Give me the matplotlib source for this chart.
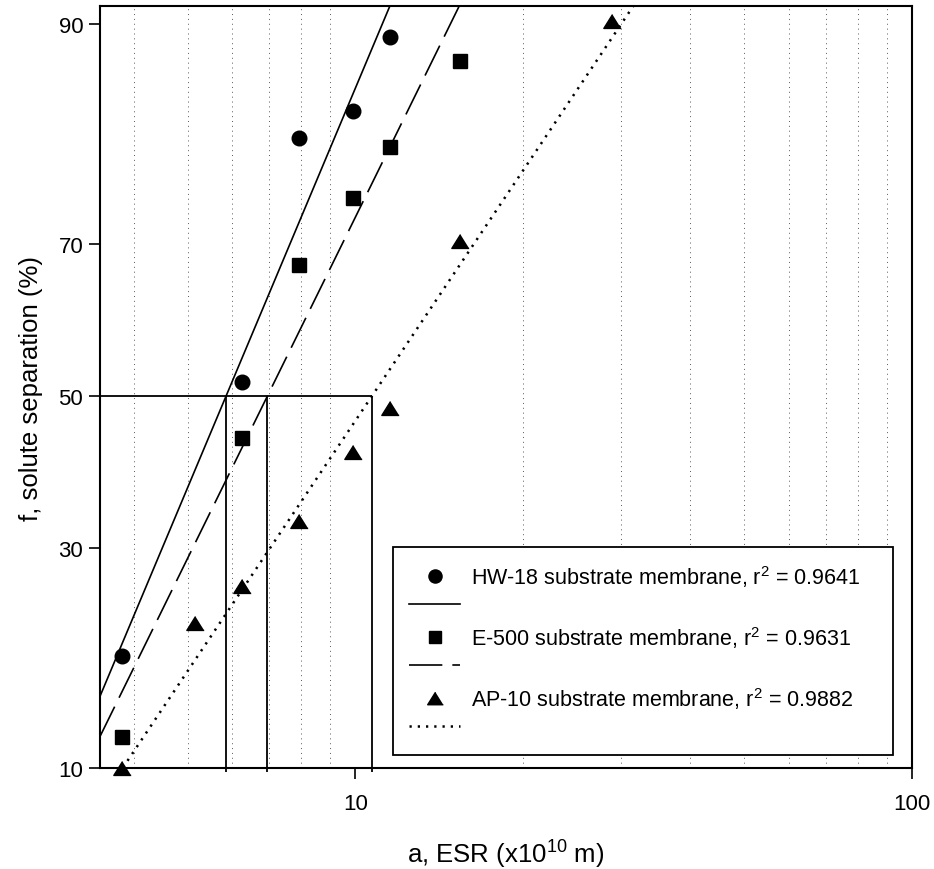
import math

import matplotlib
matplotlib.use("Agg")
import matplotlib.pyplot as plt
import numpy as np
from matplotlib.lines import Line2D
from matplotlib.ticker import FixedLocator, LogLocator, NullFormatter

plt.rcParams["font.family"] = ["Liberation Sans", "DejaVu Sans"]
plt.rcParams["mathtext.fontset"] = "custom"
plt.rcParams["mathtext.rm"] = "Liberation Sans"
plt.rcParams["mathtext.it"] = "Liberation Sans:italic"

# --- Data ---
ESR_HW18 = [3.82, 6.26, 7.91, 9.92, 11.53]
SEP_HW18 = [18.5, 51.9, 81.3, 83.7, 89.2]

ESR_E500 = [3.82, 6.26, 7.91, 9.92, 11.53, 15.4]
SEP_E500 = [12.0, 44.3, 67.4, 75.2, 80.5, 87.6]

ESR_AP10 = [3.82, 5.15, 6.26, 7.91, 9.92, 11.53, 15.4, 28.9]
SEP_AP10 = [10.0, 21.7, 25.7, 33.3, 42.3, 48.3, 70.3, 90.2]

NAMES = ["HW-18", "E-500", "AP-10"]
R2 = ["0.9641", "0.9631", "0.9882"]
Y_TICKS = [10, 30, 50, 70, 90]
X_TICKS = [10, 100]
X_LIM = (3.48, 100)
Y_LIM = (10, 91.05)

# --- probability (normal) axis ---
_erf = np.vectorize(math.erf, otypes=[float])


def norm_cdf(z):
    z = np.asarray(z, dtype=float)
    return 0.5 * (1.0 + _erf(z / math.sqrt(2.0)))


def norm_ppf(p):
    p = np.clip(np.asarray(p, dtype=float), 1e-12, 1 - 1e-12)
    lo = np.full(p.shape, -8.0)
    hi = np.full(p.shape, 8.0)
    for _ in range(60):
        mid = 0.5 * (lo + hi)
        below = norm_cdf(mid) < p
        lo = np.where(below, mid, lo)
        hi = np.where(below, hi, mid)
    return 0.5 * (lo + hi)


def prob_fwd(f):
    return norm_ppf(np.asarray(f, dtype=float) / 100.0)


def prob_inv(z):
    return 100.0 * norm_cdf(z)


fig = plt.figure(figsize=(9.34, 8.70), dpi=100)
ax = fig.add_axes([0.107, 0.116, 0.8695, 0.876])
ax.set_xscale("log")
ax.set_yscale("function", functions=(prob_fwd, prob_inv))

series = [
    (ESR_HW18, SEP_HW18, "o", 10.5, dict(linestyle="-")),
    (ESR_E500, SEP_E500, "s", 9.5, dict(dashes=(20, 6))),
    (ESR_AP10, SEP_AP10, [(0, 0.8), (-1, -0.8), (1, -0.8)], 12.5,
     dict(dashes=(0.9, 2.4), linewidth=1.8)),
]

x_line = np.logspace(np.log10(X_LIM[0]), np.log10(X_LIM[1]), 300)
handles, labels = [], []
a50 = []
for (xs, fs, mk, ms, lstyle), name, r2 in zip(series, NAMES, R2):
    # least-squares fit in (log a, probit f) space
    slope, icpt = np.polyfit(np.log10(xs), prob_fwd(fs), 1)
    a50.append(10 ** (-icpt / slope))
    ax.plot(xs, fs, linestyle="none", marker=mk, markersize=ms,
            color="black", zorder=4, clip_on=False)
    kw = dict(color="black", linewidth=1.2)
    kw.update(lstyle)
    ax.plot(x_line, prob_inv(slope * np.log10(x_line) + icpt), **kw)

    handles += [Line2D([], [], linestyle="none", marker=mk,
                       markersize=ms * 0.9, color="black"),
                Line2D([], [], **kw)]
    labels += [f"{name} substrate membrane, r$^2$ = {r2}", " "]

# 50 % separation drop lines
ax.hlines(50, X_LIM[0], max(a50), color="black", linewidth=1.3, zorder=3)
ax.vlines(a50, 9.75, 50, color="black", linewidth=1.3, zorder=3, clip_on=False)

ax.set_xlim(*X_LIM)
ax.set_ylim(*Y_LIM)

ax.xaxis.set_major_locator(FixedLocator(X_TICKS))
ax.set_xticklabels([str(t) for t in X_TICKS])
ax.xaxis.set_minor_locator(LogLocator(base=10, subs=np.arange(2, 10)))
ax.xaxis.set_minor_formatter(NullFormatter())
ax.yaxis.set_major_locator(FixedLocator(Y_TICKS))
ax.set_yticklabels([str(t) for t in Y_TICKS])
ax.yaxis.set_minor_locator(FixedLocator([]))

ax.grid(which="minor", axis="x", color="0.35", linewidth=0.7,
        linestyle=(0, (1, 4)))
ax.tick_params(which="major", direction="out", length=8, width=1.2,
               labelsize=16)
ax.tick_params(axis="x", which="major", pad=10)
ax.tick_params(axis="y", which="major", pad=4)
ax.tick_params(which="minor", length=0)
for sp in ax.spines.values():
    sp.set_linewidth(1.5)

ax.set_xlabel("a, ESR (x10$^{10}$ m)", fontsize=18.5, labelpad=17)
ax.set_ylabel("f, solute separation (%)", fontsize=18.5, labelpad=11)

leg = ax.legend(handles, labels, loc="lower left", mode="expand",
                bbox_to_anchor=(0.361, 0.017, 0.6158, 0.0),
                fontsize=15.5, handlelength=2.35, handletextpad=0.5,
                labelspacing=0.33, borderpad=0.75, borderaxespad=0,
                fancybox=False, framealpha=1, edgecolor="black")
leg.get_frame().set_linewidth(1.3)

fig.savefig("out.png", dpi=100)
